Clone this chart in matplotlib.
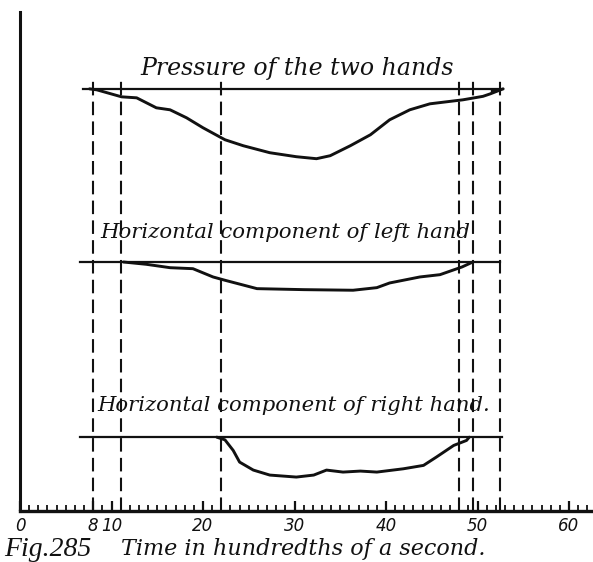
import matplotlib
matplotlib.use("Agg")
import matplotlib.pyplot as plt
import numpy as np

# ---- data -------------------------------------------------------------
# time axis in hundredths of a second
tick_values = [0, 8, 10, 20, 30, 40, 50, 60]
tick_labels = ["0", "8", "10", "20", "30", "40", "50", "60"]

# vertical time markers
marker_times = [8, 11, 22, 48, 49.5, 52.5]

# trace titles
titles = ["Pressure of the two hands",
          "Horizontal component of left hand",
          "Horizontal component of right hand."]

# resting level of each trace and the extent of its reference line
baselines = [42.3, 24.95, 7.4]
baseline_spans = [(6.9, 52.8), (6.6, 52.5), (6.6, 52.7)]

# pressure of the two hands: deflection below the resting level
pressure_t = [7.6, 8.4, 11.1, 12.75, 14.9, 16.4, 18.2, 20.0, 22.4, 24.4, 27.3,
              30.2, 32.4, 33.9, 36.1, 38.3, 40.4, 42.6, 44.8, 48.4, 50.6,
              51.4, 52.8]
pressure_d = [0.0, 0.1, 0.8, 0.9, 1.9, 2.1, 2.9, 3.9, 5.1, 5.7, 6.4,
              6.8, 7.0, 6.7, 5.7, 4.6, 3.1, 2.1, 1.5, 1.1, 0.75,
              0.5, 0.0]

# horizontal component, left hand
left_t = [11.3, 13.8, 16.4, 18.9, 21.1, 22.4, 25.9, 31.0, 36.4, 39.0,
          40.4, 43.7, 45.9, 48.3, 49.5]
left_d = [0.0, 0.23, 0.57, 0.67, 1.5, 1.83, 2.67, 2.77, 2.83, 2.57,
          2.1, 1.5, 1.27, 0.5, 0.0]

# horizontal component, right hand
right_t = [21.5, 22.4, 23.3, 24.0, 25.5, 27.3, 30.2, 32.1, 33.5, 35.3,
           37.2, 39.0, 41.9, 44.1, 45.5, 47.4, 48.8, 49.1]
right_d = [0.0, 0.27, 1.33, 2.5, 3.3, 3.8, 4.0, 3.8, 3.3, 3.5,
           3.4, 3.5, 3.17, 2.83, 2.0, 0.83, 0.33, 0.0]

traces = [(pressure_t, pressure_d), (left_t, left_d), (right_t, right_d)]
title_pos = [(30.3, 44.3), (29.0, 27.9), (29.9, 10.6)]
title_size = [17.0, 15.3, 15.2]

# ---- figure -----------------------------------------------------------
W, H = 593, 562
fig = plt.figure(figsize=(W / 100, H / 100), dpi=100)
ax = fig.add_axes([20 / W, (H - 511) / H, (W - 20) / W, (511 - 12) / H])

ink = "#111111"
script = {"family": "DejaVu Serif", "style": "italic", "color": ink}

ax.set_xlim(0, (W - 20) / 9.15)
ax.set_ylim(0, 50)

for s in ("top", "right"):
    ax.spines[s].set_visible(False)
ax.spines["left"].set_linewidth(2.2)
ax.spines["bottom"].set_linewidth(2.4)
ax.spines["left"].set_color(ink)
ax.spines["bottom"].set_color(ink)

ax.set_yticks([])
ax.set_xticks(tick_values)
ax.set_xticklabels(tick_labels, fontdict={"family": "DejaVu Sans",
                                          "style": "oblique", "size": 12,
                                          "color": ink})
ax.set_xticks(np.arange(1, 63), minor=True)
ax.tick_params(axis="x", which="major", direction="in", length=7, width=1.6,
               color=ink, pad=4)
ax.tick_params(axis="x", which="minor", direction="in", length=4, width=1.3,
               color=ink)

# vertical dashed time markers
for t in marker_times:
    ax.plot([t, t], [0, 43.2], color=ink, lw=1.5, dashes=(6.5, 3.0),
            solid_capstyle="butt")

# reference lines and traces
for base, (a, b), (t, d), name, (tx, ty), fs in zip(
        baselines, baseline_spans, traces, titles, title_pos, title_size):
    ax.plot([a, b], [base, base], color=ink, lw=1.6)
    y = base - np.asarray(d)
    ax.plot(t, y, color=ink, lw=2.1,
            solid_joinstyle="round", solid_capstyle="round")
    ax.text(tx, ty, name, ha="center", va="center", size=fs, **script)

# heavy closing stroke where the pressure trace rejoins its reference line
pt = np.asarray(pressure_t)
py = baselines[0] - np.asarray(pressure_d)
tail = pt >= 51.4
ax.fill_between(pt[tail], py[tail], baselines[0], color=ink, lw=0)

# caption
fig.text(4 / W, (H - 550) / H, "Fig.285", ha="left", va="center",
         size=20, family="Liberation Serif", style="italic", color=ink)
fig.text(121 / W, (H - 549) / H, "Time in hundredths of a second.",
         ha="left", va="center", size=16, **script)

fig.savefig("out.png", dpi=100, facecolor="white")
